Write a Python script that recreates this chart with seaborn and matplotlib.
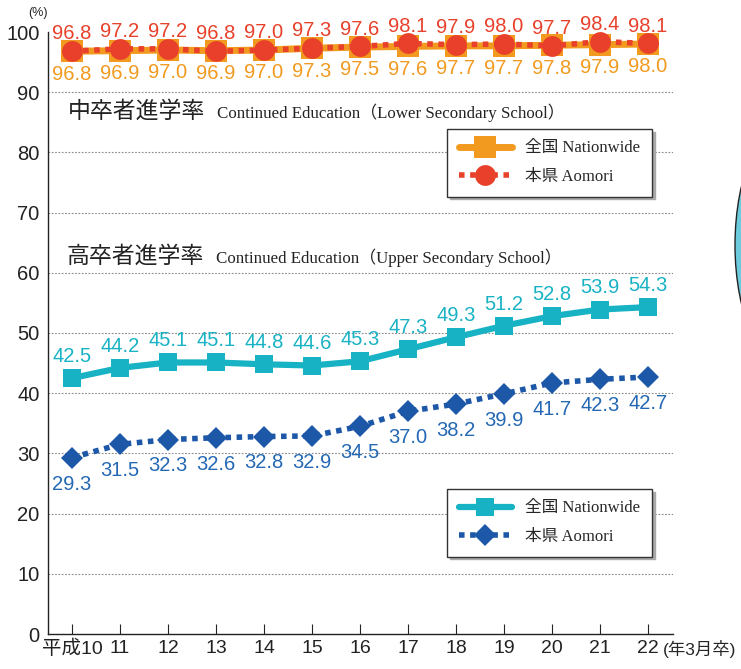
import matplotlib
matplotlib.use("Agg")
import matplotlib.pyplot as plt
import matplotlib.patches as mpatches
import seaborn as sns

# --- data (school years, Heisei 10-22) ---
years = list(range(10, 23))
year_labels = ["平成10"] + [str(y) for y in years[1:]]

lower_nation = [96.8, 96.9, 97.0, 96.9, 97.0, 97.3, 97.5, 97.6, 97.7, 97.7, 97.8, 97.9, 98.0]
lower_aomori = [96.8, 97.2, 97.2, 96.8, 97.0, 97.3, 97.6, 98.1, 97.9, 98.0, 97.7, 98.4, 98.1]
upper_nation = [42.5, 44.2, 45.1, 45.1, 44.8, 44.6, 45.3, 47.3, 49.3, 51.2, 52.8, 53.9, 54.3]
upper_aomori = [29.3, 31.5, 32.3, 32.6, 32.8, 32.9, 34.5, 37.0, 38.2, 39.9, 41.7, 42.3, 42.7]

ORANGE = "#F29A1F"
RED = "#E8402A"
TEAL = "#17B2C4"
BLUE = "#1D58A8"
BLUE_TXT = "#2468B4"

sns.set_style("white")
plt.rcParams["font.family"] = ["Liberation Sans", "Noto Sans CJK JP"]

fig = plt.figure(figsize=(7.41, 6.69), dpi=100)
ax = fig.add_axes([48 / 741, 35 / 669, 625 / 741, 602 / 669])

# --- lines ---
sns.lineplot(x=years, y=lower_nation, ax=ax, color=ORANGE, linewidth=5,
             marker="s", markersize=16.5, markeredgewidth=0, label="全国 Nationwide", zorder=3)
sns.lineplot(x=years, y=lower_aomori, ax=ax, color=RED, linewidth=4, linestyle=(0, (1, 1)),
             marker="o", markersize=15, markeredgewidth=0, label="本県 Aomori", zorder=4)
sns.lineplot(x=years, y=upper_nation, ax=ax, color=TEAL, linewidth=4.5,
             marker="s", markersize=13, markeredgewidth=0, label="全国 Nationwide", zorder=3)
sns.lineplot(x=years, y=upper_aomori, ax=ax, color=BLUE, linewidth=4, linestyle=(0, (1, 1)),
             marker="D", markersize=11, markeredgewidth=0, label="本県 Aomori", zorder=4)

# --- value labels ---
lab_kw = dict(textcoords="offset points", ha="center", va="center", fontsize=14.5)
for x, v in zip(years, lower_aomori):
    ax.annotate(f"{v:.1f}", (x, v), xytext=(0, 12.5), color=RED, **lab_kw)
for x, v in zip(years, lower_nation):
    ax.annotate(f"{v:.1f}", (x, v), xytext=(0, -16.5), color=ORANGE, **lab_kw)
for x, v in zip(years, upper_nation):
    ax.annotate(f"{v:.1f}", (x, v), xytext=(0, 15.5), color=TEAL, **lab_kw)
for x, v in zip(years, upper_aomori):
    ax.annotate(f"{v:.1f}", (x, v), xytext=(0, -19), color=BLUE_TXT, **lab_kw)

# --- axes ---
ax.set_xlim(9.5, 22.52)
ax.set_ylim(0, 100)
ax.set_yticks(range(0, 101, 10))
ax.set_xticks(years)
ax.set_xticklabels(year_labels)
ax.tick_params(axis="y", length=0, pad=6, labelsize=14.5, colors="#222222")
ax.tick_params(axis="x", direction="in", length=7, width=0.8, pad=4,
               labelsize=14, colors="#222222", bottom=True)
for s in ["top", "right"]:
    ax.spines[s].set_visible(False)
for s in ["left", "bottom"]:
    ax.spines[s].set_color("#222222")
    ax.spines[s].set_linewidth(1.0)
for yv in range(10, 100, 10):
    ax.axhline(yv, color="#888888", linestyle=(0, (1.5, 1.5)), linewidth=0.8, zorder=0)

# unit marks
ax.text(-0.016, 1.022, "(%)", transform=ax.transAxes, fontsize=9, ha="center", va="bottom")
ax.text(22.3, -0.0095, "(年3月卒)", transform=ax.get_xaxis_transform(),
        fontsize=12.5, ha="left", va="top")

# --- section titles ---
ax.text(0.032, 0.868, "中卒者進学率", transform=ax.transAxes, fontsize=16.5,
        family="Noto Sans CJK JP", va="center", color="#222222")
ax.text(0.271, 0.866, "Continued Education（Lower Secondary School）", transform=ax.transAxes,
        fontsize=12.2, family=["Liberation Serif", "Noto Sans CJK JP"], va="center", color="#222222")
ax.text(0.029, 0.627, "高卒者進学率", transform=ax.transAxes, fontsize=16.5,
        family="Noto Sans CJK JP", va="center", color="#222222")
ax.text(0.268, 0.625, "Continued Education（Upper Secondary School）", transform=ax.transAxes,
        fontsize=12.2, family=["Liberation Serif", "Noto Sans CJK JP"], va="center", color="#222222")

# --- legends ---
handles, labels = ax.get_legend_handles_labels()
leg_kw = dict(loc="upper left", frameon=True, fancybox=False, shadow={"color": "#aaaaaa", "alpha": 1},
              handlelength=3.2, numpoints=1, borderpad=0.7, labelspacing=0.75,
              prop={"family": ["Liberation Serif", "Noto Sans CJK JP"], "size": 12},
              edgecolor="#333333", framealpha=1)
leg1 = ax.legend(handles[:2], labels[:2], bbox_to_anchor=(0.625, 0.853), **leg_kw)
leg1.get_frame().set_linewidth(1.0)
ax.add_artist(leg1)
leg2 = ax.legend(handles[2:], labels[2:], bbox_to_anchor=(0.625, 0.255), **leg_kw)
leg2.get_frame().set_linewidth(1.0)

# fragment of neighbouring graphic at the right edge
fig.patches.append(mpatches.Ellipse((795 / 741, 424 / 669), 120 / 741, 260 / 669,
                                    transform=fig.transFigure, facecolor="#6CCBDD",
                                    edgecolor="#222222", linewidth=1))

fig.savefig("out.png", dpi=100)
